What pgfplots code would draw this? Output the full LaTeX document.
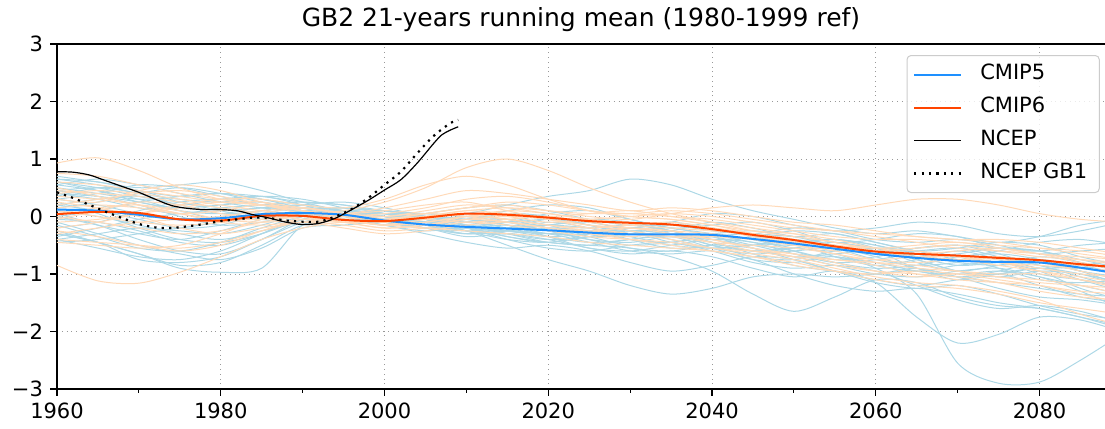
\documentclass[border=0pt]{standalone}
\usepackage{pgfplots}
\usepackage{pgfplotstable}
\pgfplotsset{compat=1.18}
\usepackage{fontspec}
\setmainfont{DejaVu Sans}
\definecolor{c5thin}{RGB}{173,216,230}
\definecolor{c6thin}{RGB}{255,218,185}
\definecolor{c5mean}{RGB}{30,144,255}
\definecolor{c6mean}{RGB}{255,69,0}

% CMIP5 members: one row per model, columns = years
\pgfplotstableread{
name 1960 1965 1970 1975 1980 1985 1990 1995 2000 2005 2010 2015 2020 2025 2030 2035 2040 2045 2050 2055 2060 2065 2070 2075 2080 2085 2090
m1 0.65 0.60 0.45 0.35 0.40 0.30 0.15 0.05 0.00 -0.10 -0.05 0.10 0.20 0.15 -0.05 -0.20 -0.30 -0.45 -0.50 -0.40 -0.55 -0.80 -0.95 -0.85 -0.70 -0.80 -0.95
m2 0.55 0.65 0.55 0.40 0.25 0.15 0.10 0.15 0.05 -0.15 -0.30 -0.25 -0.10 -0.20 -0.40 -0.55 -0.50 -0.35 -0.45 -0.70 -0.85 -0.75 -0.60 -0.75 -1.00 -1.10 -1.20
m3 0.45 0.50 0.40 0.20 0.30 0.35 0.20 0.00 -0.15 -0.25 -0.20 -0.35 -0.45 -0.30 -0.15 -0.25 -0.45 -0.60 -0.55 -0.45 -0.60 -0.90 -1.05 -0.95 -0.80 -0.95 -1.20
m4 -0.40 -0.55 -0.70 -0.75 -0.60 -0.30 0.00 0.10 0.00 -0.05 -0.15 -0.30 -0.40 -0.35 -0.20 -0.30 -0.50 -0.70 -0.75 -0.60 -0.55 -0.75 -0.95 -1.05 -0.95 -1.00 -1.15
m5 -0.30 -0.45 -0.75 -0.80 -0.70 -0.40 -0.10 0.05 0.10 0.00 -0.10 -0.05 -0.15 -0.35 -0.50 -0.45 -0.35 -0.40 -0.60 -0.80 -0.90 -0.85 -0.70 -0.65 -0.75 -0.95 -1.05
m6 -0.25 -0.45 -0.65 -0.90 -0.97 -0.90 -0.15 0.00 0.05 -0.05 -0.20 -0.25 -0.15 -0.10 -0.25 -0.45 -0.55 -0.50 -0.40 -0.55 -0.75 -0.85 -0.80 -0.70 -0.85 -1.05 -1.25
m7 0.30 0.20 0.05 -0.05 0.00 0.10 0.15 0.05 -0.10 -0.20 -0.10 0.05 0.00 -0.15 -0.30 -0.25 -0.10 -0.20 -0.35 -0.30 -0.45 -0.60 -0.55 -0.45 -0.50 -0.70 -0.85
m8 0.70 0.60 0.50 0.55 0.60 0.45 0.25 0.10 0.05 0.05 0.00 -0.10 -0.25 -0.40 -0.45 -0.35 -0.45 -0.65 -0.85 -0.95 -1.00 -0.90 -1.05 -1.25 -1.40 -1.45 -1.55
m9 0.10 0.00 -0.15 -0.30 -0.40 -0.25 -0.10 0.00 -0.05 -0.10 -0.25 -0.50 -0.75 -0.95 -1.20 -1.35 -1.25 -1.05 -1.00 -1.05 -1.00 -0.95 -1.10 -1.00 -0.90 -1.10 -1.30
m10 0.20 0.30 0.35 0.20 0.05 0.10 0.20 0.25 0.15 0.00 -0.15 -0.10 0.05 0.10 -0.05 -0.20 -0.15 -0.10 -0.25 -0.45 -0.40 -0.30 -0.35 -0.55 -0.60 -0.50 -0.45
m11 -0.10 -0.30 -0.50 -0.65 -0.75 -0.55 -0.20 -0.15 -0.10 -0.20 -0.35 -0.30 -0.40 -0.55 -0.65 -0.60 -0.70 -0.90 -1.05 -0.95 -1.15 -1.75 -2.20 -2.05 -1.75 -1.80 -2.00
m12 0.40 0.35 0.25 0.10 0.05 0.15 0.10 -0.05 -0.15 -0.10 -0.20 -0.35 -0.45 -0.50 -0.40 -0.35 -0.55 -0.75 -0.80 -0.70 -0.90 -1.35 -2.55 -2.90 -2.88 -2.50 -2.05
m13 0.50 0.40 0.30 0.35 0.40 0.35 0.25 0.20 0.10 0.00 0.05 0.20 0.35 0.45 0.65 0.55 0.30 0.10 -0.05 -0.20 -0.30 -0.25 -0.35 -0.45 -0.35 -0.15 -0.05
m14 -0.45 -0.40 -0.30 -0.20 -0.10 0.00 0.05 -0.05 -0.15 -0.30 -0.45 -0.55 -0.50 -0.60 -0.80 -0.95 -0.85 -0.70 -0.75 -0.95 -1.10 -1.20 -1.10 -1.00 -1.20 -1.40 -1.50
m15 0.00 0.10 0.25 0.35 0.40 0.30 0.20 0.10 0.00 -0.05 -0.15 -0.25 -0.30 -0.25 -0.35 -0.50 -0.55 -0.50 -0.60 -0.75 -0.70 -0.55 -0.50 -0.65 -0.85 -0.90 -0.80
m16 0.60 0.45 0.25 0.15 0.20 0.25 0.10 -0.05 -0.10 -0.20 -0.30 -0.20 -0.05 -0.15 -0.25 -0.20 -0.35 -0.55 -0.75 -0.95 -1.15 -1.25 -1.20 -1.35 -1.55 -1.70 -1.80
m17 -0.15 -0.35 -0.55 -0.60 -0.45 -0.20 0.00 0.05 0.00 -0.15 -0.20 -0.10 -0.20 -0.35 -0.30 -0.15 -0.20 -0.35 -0.45 -0.40 -0.50 -0.70 -0.85 -0.80 -0.75 -0.90 -1.00
m18 0.35 0.50 0.45 0.25 0.10 -0.05 -0.10 0.00 0.05 -0.05 -0.20 -0.40 -0.55 -0.60 -0.50 -0.45 -0.60 -0.80 -0.90 -0.85 -0.95 -1.20 -1.45 -1.60 -1.55 -1.65 -1.85
m19 0.25 0.05 -0.20 -0.40 -0.45 -0.30 -0.05 0.10 0.10 0.00 -0.05 -0.15 -0.30 -0.30 -0.20 -0.15 -0.25 -0.30 -0.20 -0.25 -0.40 -0.45 -0.40 -0.50 -0.65 -0.60 -0.55
m20 -0.35 -0.20 -0.05 0.05 0.10 0.15 0.20 0.10 -0.05 -0.10 -0.05 -0.15 -0.35 -0.55 -0.60 -0.50 -0.40 -0.45 -0.65 -0.80 -0.75 -0.65 -0.70 -0.90 -1.10 -1.15 -1.10
m21 0.55 0.45 0.30 0.10 -0.05 0.00 0.10 0.15 0.10 0.00 -0.15 -0.20 -0.15 -0.05 -0.10 -0.25 -0.40 -0.35 -0.25 -0.30 -0.45 -0.60 -0.70 -0.60 -0.45 -0.40 -0.50
m22 -0.30 -0.45 -0.65 -0.85 -0.80 -0.50 -0.15 -0.05 -0.10 -0.20 -0.30 -0.25 -0.30 -0.45 -0.60 -0.65 -0.60 -0.75 -1.00 -1.20 -1.30 -1.25 -1.35 -1.50 -1.60 -1.75 -1.95
m23 0.15 0.25 0.40 0.50 0.40 0.25 0.15 0.05 -0.05 -0.15 -0.25 -0.30 -0.20 -0.25 -0.40 -0.45 -0.35 -0.30 -0.40 -0.55 -0.65 -0.60 -0.55 -0.70 -0.90 -0.85 -0.75
m24 0.40 0.30 0.15 0.05 0.15 0.20 0.25 0.20 0.05 -0.10 -0.20 -0.15 -0.25 -0.40 -0.55 -0.60 -0.50 -0.55 -0.70 -0.65 -0.60 -0.75 -0.95 -1.00 -0.90 -1.00 -1.20
m25 -0.05 -0.10 -0.25 -0.45 -0.50 -0.30 0.00 0.00 -0.10 -0.20 -0.25 -0.20 -0.15 -0.20 -0.30 -0.35 -0.30 -0.25 -0.35 -0.50 -0.60 -0.55 -0.50 -0.55 -0.60 -0.75 -0.90
m26 0.65 0.55 0.40 0.30 0.25 0.35 0.30 0.15 0.00 -0.05 0.00 -0.05 -0.20 -0.25 -0.20 -0.30 -0.50 -0.60 -0.55 -0.65 -0.85 -0.95 -0.85 -0.80 -0.95 -1.25 -1.45
m27 -0.40 -0.30 -0.20 -0.25 -0.30 -0.15 0.05 0.10 0.00 -0.10 -0.05 0.05 0.00 -0.10 -0.20 -0.10 0.05 0.00 -0.15 -0.25 -0.20 -0.10 -0.15 -0.30 -0.35 -0.25 -0.10
m28 0.05 -0.15 -0.40 -0.60 -0.65 -0.40 -0.05 0.05 0.00 -0.05 -0.15 -0.30 -0.45 -0.50 -0.55 -0.70 -0.95 -1.35 -1.65 -1.40 -1.10 -1.15 -1.40 -1.55 -1.60 -1.75 -1.90
m29 0.30 0.40 0.55 0.50 0.35 0.20 0.10 0.05 0.00 -0.10 -0.20 -0.25 -0.35 -0.30 -0.25 -0.40 -0.55 -0.65 -0.60 -0.55 -0.70 -0.90 -1.00 -0.95 -1.05 -1.30 -1.60
m30 0.20 0.10 -0.05 -0.20 -0.15 0.05 0.15 0.10 0.00 0.00 -0.05 -0.10 -0.05 -0.15 -0.30 -0.35 -0.30 -0.40 -0.55 -0.60 -0.55 -0.60 -0.75 -0.80 -0.75 -0.85 -1.00
m31 0.45 0.35 0.20 0.00 -0.15 -0.10 0.05 0.10 0.05 -0.05 -0.10 -0.20 -0.35 -0.45 -0.40 -0.30 -0.35 -0.50 -0.65 -0.70 -0.80 -0.95 -1.05 -1.15 -1.25 -1.35 -1.40
m32 -0.20 -0.10 0.10 0.25 0.30 0.20 0.05 -0.05 -0.05 0.05 0.15 0.20 0.10 -0.05 -0.15 -0.10 -0.20 -0.30 -0.35 -0.45 -0.55 -0.70 -0.65 -0.55 -0.60 -0.80 -0.95
m33 0.60 0.50 0.35 0.25 0.15 0.05 0.00 0.05 0.05 -0.05 -0.25 -0.40 -0.45 -0.35 -0.25 -0.30 -0.45 -0.60 -0.70 -0.85 -1.00 -1.05 -0.95 -0.90 -1.05 -1.20 -1.35
m34 0.00 -0.15 -0.30 -0.40 -0.25 -0.05 0.10 0.15 0.10 0.05 0.00 -0.05 -0.15 -0.20 -0.15 -0.25 -0.40 -0.50 -0.45 -0.40 -0.50 -0.65 -0.80 -0.85 -0.80 -0.95 -1.10
}\cmipfiveraw
\pgfplotstabletranspose[colnames from=name, input colnames to=year]\cmipfive\cmipfiveraw

% CMIP6 members
\pgfplotstableread{
name 1960 1965 1970 1975 1980 1985 1990 1995 2000 2005 2010 2015 2020 2025 2030 2035 2040 2045 2050 2055 2060 2065 2070 2075 2080 2085 2090
m1 0.93 1.02 0.80 0.50 0.30 0.20 0.15 0.05 0.00 -0.05 -0.10 -0.05 0.00 -0.10 -0.20 -0.25 -0.30 -0.40 -0.50 -0.60 -0.75 -0.80 -0.75 -0.80 -0.90 -1.00 -1.05
m2 -0.85 -1.12 -1.16 -0.97 -0.70 -0.40 -0.20 -0.10 -0.15 -0.20 -0.25 -0.30 -0.35 -0.45 -0.50 -0.55 -0.60 -0.70 -0.85 -0.95 -1.00 -0.95 -1.00 -1.10 -1.20 -1.30 -1.35
m3 0.40 0.45 0.40 0.30 0.20 0.10 0.05 0.10 0.25 0.50 0.85 1.00 0.80 0.50 0.25 0.05 -0.10 -0.25 -0.35 -0.45 -0.60 -0.70 -0.75 -0.70 -0.80 -0.95 -1.10
m4 -0.20 -0.10 0.05 0.20 0.30 0.30 0.20 0.15 0.30 0.55 0.70 0.55 0.30 0.10 0.00 -0.05 -0.15 -0.30 -0.45 -0.55 -0.65 -0.70 -0.75 -0.85 -0.95 -1.05 -1.15
m5 0.10 0.00 -0.10 -0.15 -0.10 0.05 0.15 0.05 -0.05 0.00 0.10 0.15 0.10 0.00 -0.05 0.05 0.15 0.20 0.15 0.10 0.20 0.30 0.30 0.20 0.05 -0.05 -0.10
m6 -0.40 -0.45 -0.50 -0.55 -0.45 -0.25 -0.10 -0.15 -0.25 -0.20 -0.10 -0.15 -0.25 -0.35 -0.40 -0.45 -0.55 -0.65 -0.75 -0.90 -1.05 -1.15 -1.20 -1.30 -1.45 -1.70 -1.90
m7 0.60 0.55 0.45 0.35 0.25 0.20 0.10 0.00 -0.05 0.00 0.05 -0.05 -0.15 -0.20 -0.15 -0.10 -0.20 -0.35 -0.45 -0.50 -0.60 -0.65 -0.60 -0.55 -0.65 -0.80 -0.90
m8 0.20 0.30 0.40 0.45 0.35 0.20 0.10 0.05 0.10 0.20 0.25 0.10 -0.05 -0.15 -0.20 -0.30 -0.45 -0.60 -0.70 -0.75 -0.85 -1.00 -1.10 -1.15 -1.20 -1.35 -1.50
m9 -0.25 -0.35 -0.50 -0.60 -0.50 -0.25 -0.05 -0.10 -0.20 -0.15 0.00 0.10 0.05 -0.05 -0.15 -0.20 -0.25 -0.30 -0.40 -0.55 -0.60 -0.55 -0.50 -0.60 -0.70 -0.75 -0.80
m10 0.05 0.15 0.20 0.10 -0.05 -0.10 -0.05 0.00 0.05 0.15 0.30 0.35 0.25 0.10 0.00 -0.05 -0.15 -0.25 -0.30 -0.40 -0.55 -0.65 -0.70 -0.75 -0.80 -0.85 -0.90
m11 0.35 0.30 0.20 0.05 -0.10 -0.15 -0.10 -0.20 -0.30 -0.25 -0.15 -0.10 -0.20 -0.30 -0.35 -0.30 -0.40 -0.55 -0.70 -0.85 -0.95 -1.00 -1.05 -1.15 -1.30 -1.40 -1.45
m12 -0.10 -0.05 0.05 0.15 0.25 0.20 0.05 -0.05 -0.10 0.00 0.10 0.05 0.00 0.05 0.10 0.00 -0.10 -0.20 -0.30 -0.45 -0.55 -0.50 -0.45 -0.55 -0.65 -0.70 -0.75
m13 0.50 0.35 0.20 0.05 -0.05 -0.05 0.00 -0.05 -0.15 -0.10 0.00 0.05 -0.05 -0.20 -0.30 -0.40 -0.55 -0.60 -0.65 -0.80 -0.95 -1.05 -1.00 -1.05 -1.15 -1.20 -1.25
m14 -0.05 0.10 0.25 0.20 0.05 0.00 0.05 0.00 -0.05 0.05 0.15 0.20 0.10 0.05 0.05 0.00 -0.05 -0.15 -0.25 -0.35 -0.40 -0.40 -0.45 -0.50 -0.55 -0.60 -0.70
m15 0.25 0.15 0.00 -0.20 -0.30 -0.20 -0.10 -0.05 0.00 0.05 0.00 -0.10 -0.20 -0.25 -0.20 -0.25 -0.40 -0.55 -0.65 -0.75 -0.80 -0.85 -0.95 -1.05 -1.10 -1.20 -1.35
m16 0.75 0.70 0.55 0.40 0.30 0.25 0.15 0.05 0.00 0.10 0.20 0.15 0.05 -0.05 -0.10 -0.15 -0.20 -0.30 -0.40 -0.50 -0.55 -0.60 -0.70 -0.80 -0.85 -0.90 -0.95
m17 -0.30 -0.20 -0.10 -0.05 0.00 0.10 0.15 0.05 -0.10 -0.15 -0.05 0.00 -0.05 -0.15 -0.25 -0.35 -0.35 -0.40 -0.50 -0.65 -0.75 -0.70 -0.70 -0.80 -0.95 -1.10 -1.25
m18 0.15 0.20 0.15 0.05 0.10 0.20 0.10 -0.05 -0.15 -0.05 0.05 0.00 -0.10 -0.05 0.00 0.05 0.00 -0.10 -0.20 -0.25 -0.30 -0.35 -0.40 -0.40 -0.45 -0.55 -0.65
m19 0.00 -0.10 -0.20 -0.30 -0.25 -0.10 0.00 -0.05 -0.15 -0.10 0.00 -0.05 -0.15 -0.25 -0.30 -0.35 -0.45 -0.50 -0.55 -0.65 -0.80 -0.90 -0.95 -1.00 -1.00 -1.10 -1.20
m20 0.45 0.40 0.35 0.25 0.15 0.05 -0.05 -0.10 -0.05 0.05 0.15 0.25 0.20 0.10 0.05 0.10 0.05 -0.05 -0.15 -0.25 -0.35 -0.45 -0.55 -0.60 -0.65 -0.75 -0.85
m21 -0.45 -0.50 -0.55 -0.50 -0.30 -0.05 0.00 -0.10 -0.20 -0.15 -0.05 -0.10 -0.20 -0.30 -0.40 -0.50 -0.60 -0.70 -0.80 -0.95 -1.10 -1.20 -1.25 -1.35 -1.50 -1.60 -1.70
m22 0.30 0.25 0.45 0.55 0.45 0.25 0.10 0.05 0.15 0.30 0.45 0.40 0.30 0.20 0.10 0.15 0.10 0.00 -0.10 -0.15 -0.25 -0.35 -0.40 -0.45 -0.55 -0.65 -0.75
}\cmipsixraw
\pgfplotstabletranspose[colnames from=name, input colnames to=year]\cmipsix\cmipsixraw

\begin{document}
\begin{tikzpicture}
\begin{axis}[
  name=ax,
  scale only axis, width=524pt, height=172.5pt,
  xmin=1960, xmax=2088, ymin=-3, ymax=3,
  axis x line*=box, axis y line*=left,
  axis line style={-, line width=0.8pt},
  xtick={1960,1980,2000,2020,2040,2060,2080},
  xticklabels={1960,1980,2000,2020,2040,2060,2080},
  minor xtick={1970,1990,2010,2030,2050,2070},
  ytick={-3,-2,-1,0,1,2,3},
  yticklabels={−3,−2,−1,0,1,2,3},
  tick pos=left, tick align=outside,
  major tick length=3.5pt, minor tick length=2pt,
  every tick/.style={black, line width=0.6pt},
  xmajorgrids, ymajorgrids,
  major grid style={dotted, black!40, line width=0.4pt},
  tick label style={font=\fontsize{10.5}{12}\selectfont},
  title={GB2 21-years running mean (1980-1999 ref)},
  title style={font=\fontsize{12.5}{15}\selectfont, at={(0.5,1)}, anchor=base, yshift=2.5pt},
  legend style={at={(0.995,0.968)}, anchor=north east, draw=black!20, line width=0.5pt,
    rounded corners=2pt, fill=white, fill opacity=0.8, text opacity=1,
    font=\fontsize{10.5}{12}\selectfont, inner xsep=3pt, inner ysep=1.5pt, row sep=0.5pt,
    nodes={inner sep=3pt, text height=7.7pt, text depth=2.3pt}},
  legend cell align=left,
  legend image code/.code={\draw[#1] (0pt,0pt) -- (23.5pt,0pt); \path (29.5pt,0pt);},
]
\pgfplotsinvokeforeach{1,...,34}{
  \addplot[c5thin, line width=0.5pt, smooth, forget plot] table[x=year, y=m#1] {\cmipfive};
}
\pgfplotsinvokeforeach{1,...,22}{
  \addplot[c6thin, line width=0.5pt, smooth, forget plot] table[x=year, y=m#1] {\cmipsix};
}
\addplot[c5mean, line width=1pt, smooth] coordinates {
(1960,0.12) (1965,0.10) (1970,0.03) (1975,-0.05) (1980,-0.03) (1985,0.04) (1990,0.06) (1995,0.03) (2000,-0.07) (2005,-0.14) (2010,-0.18) (2015,-0.21) (2020,-0.24) (2025,-0.28) (2030,-0.31) (2035,-0.31) (2040,-0.32) (2045,-0.39) (2050,-0.47) (2055,-0.56) (2060,-0.65) (2065,-0.72) (2070,-0.77) (2075,-0.79) (2080,-0.80) (2085,-0.89) (2090,-1.00)};
\addlegendentry{CMIP5}
\addplot[c6mean, line width=1pt, smooth] coordinates {
(1960,0.04) (1965,0.08) (1970,0.06) (1975,-0.05) (1980,-0.07) (1985,0.01) (1990,0.01) (1995,-0.06) (2000,-0.08) (2005,-0.02) (2010,0.05) (2015,0.03) (2020,-0.02) (2025,-0.08) (2030,-0.11) (2035,-0.14) (2040,-0.22) (2045,-0.32) (2050,-0.41) (2055,-0.52) (2060,-0.61) (2065,-0.65) (2070,-0.68) (2075,-0.72) (2080,-0.76) (2085,-0.83) (2090,-0.89)};
\addlegendentry{CMIP6}
\addplot[black, line width=0.6pt, smooth] coordinates {
(1960,0.78) (1962,0.77) (1964,0.72) (1966,0.62) (1968,0.52) (1970,0.42) (1972,0.30) (1974,0.19) (1976,0.14) (1978,0.12) (1980,0.12) (1982,0.10) (1984,0.03) (1986,-0.03) (1988,-0.10) (1990,-0.14) (1992,-0.12) (1994,-0.03) (1996,0.12) (1998,0.28) (2000,0.46) (2002,0.64) (2004,0.93) (2006,1.27) (2007,1.42) (2008,1.50) (2009,1.56)};
\addlegendentry{NCEP}
\addplot[black, line width=1.1pt, dash pattern=on 1.1pt off 2.6pt, smooth] coordinates {
(1960,0.42) (1962,0.32) (1964,0.20) (1966,0.08) (1968,-0.03) (1970,-0.13) (1972,-0.19) (1974,-0.20) (1976,-0.17) (1978,-0.13) (1980,-0.08) (1982,-0.05) (1984,-0.02) (1986,-0.03) (1988,-0.07) (1990,-0.09) (1992,-0.09) (1994,0.00) (1996,0.13) (1998,0.32) (2000,0.55) (2002,0.78) (2004,1.10) (2006,1.40) (2008,1.62) (2009,1.68)};
\addlegendentry{NCEP GB1}
\end{axis}
\pgfresetboundingbox
\path ([xshift=-28.5pt,yshift=-20pt]ax.south west) rectangle ([yshift=22pt]ax.north east);
\end{tikzpicture}
\end{document}
